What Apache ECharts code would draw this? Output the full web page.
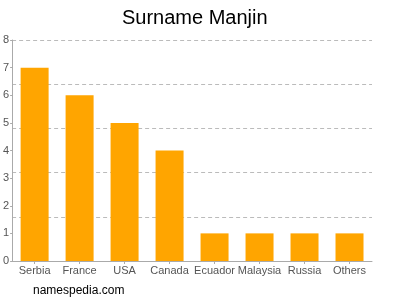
<!DOCTYPE html>
<html><head><meta charset="utf-8">
<script src="https://cdn.jsdelivr.net/npm/echarts@6/dist/echarts.min.js"></script>
<style>html,body{margin:0;padding:0;background:#fff}#c{width:400px;height:300px}</style>
</head><body><div id="c"></div>
<script>
const categories = ["Serbia","France","USA","Canada","Ecuador","Malaysia","Russia","Others"];
const values = [7,6,5,4,1,1,1,1];
const yTicks = [0,1,2,3,4,5,6,7,8];
const chart = echarts.init(document.getElementById('c'), null, {renderer:'canvas'});
chart.setOption({
  animation:false,
  title:{text:'Surname Manjin',left:117,top:3,textStyle:{fontFamily:'Liberation Sans, Arial, sans-serif',fontSize:20,fontWeight:'normal',color:'#000'}},
  graphic:[{type:'text',left:33,top:285,style:{text:'namespedia.com',font:'12px "Liberation Sans", Arial, sans-serif',fill:'#000'}}],
  grid:{left:12,right:28,top:40,bottom:39},
  xAxis:{type:'category',data:categories,
    axisLine:{lineStyle:{color:'#aaa'}},axisTick:{show:true,alignWithLabel:true,length:3,lineStyle:{color:'#aaa'}},
    axisLabel:{color:'#555',fontSize:11,fontFamily:'Liberation Sans, Arial, sans-serif',margin:4,interval:0}},
  yAxis:[{type:'value',min:yTicks[0],max:yTicks[yTicks.length-1],interval:1,
    axisLine:{show:true,lineStyle:{color:'#aaa'}},axisTick:{show:true,length:2,lineStyle:{color:'#aaa'}},
    axisLabel:{color:'#555',fontSize:11,fontFamily:'Liberation Sans, Arial, sans-serif',margin:3},
    splitLine:{show:false}},
   {type:'value',min:0,max:8,interval:1.6,position:'left',
    axisLine:{show:false},axisTick:{show:false},axisLabel:{show:false},
    splitLine:{show:true,lineStyle:{color:'#bbb',type:[4,3],width:1}}}],
  series:[{type:'bar',data:values,barWidth:28,itemStyle:{color:'#FFA500'}}]
});
</script></body></html>
